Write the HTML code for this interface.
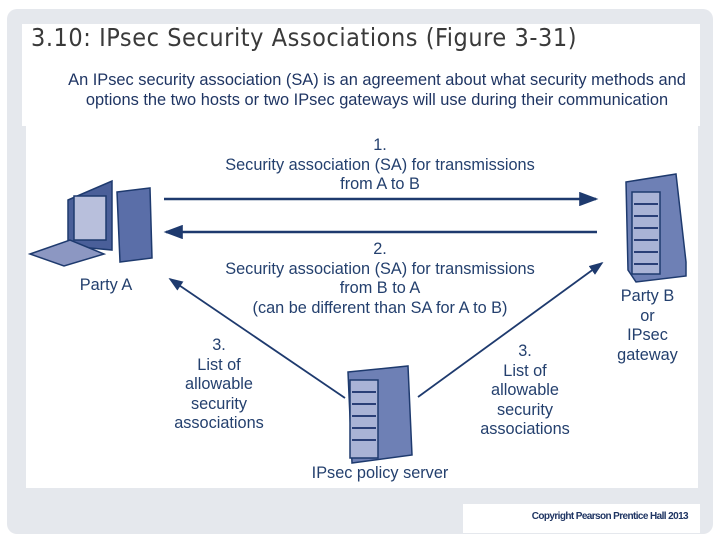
<!DOCTYPE html>
<html><head><style>
body{margin:0;width:720px;height:540px;background:#fff;position:relative;overflow:hidden;font-family:"Liberation Sans",sans-serif}
.t{position:absolute;color:#24406e;font-size:16.3px;text-align:center;line-height:19.6px;white-space:nowrap}
</style></head><body>
<div style="position:absolute;left:7px;top:9px;width:706px;height:525px;background:#e5e8ed;border-radius:10px"></div>
<div style="position:absolute;left:22px;top:24px;width:678px;height:102px;background:#fff"></div>
<div style="position:absolute;left:26px;top:126px;width:672px;height:362px;background:#fff"></div>
<div style="position:absolute;left:463px;top:504px;width:237px;height:29px;background:#fff"></div>
<div style="position:absolute;left:31px;top:23px;font-size:25px;color:#3a3a3a;letter-spacing:0.55px;font-family:'DejaVu Sans Condensed','Liberation Sans',sans-serif">3.10: IPsec Security Associations (Figure 3-31)</div>
<div class="t" style="left:27px;width:700px;top:71px;color:#1f3563;font-size:16.4px">An IPsec security association (SA) is an agreement about what security methods and<br>options the two hosts or two IPsec gateways will use during their communication</div>
<div class="t" style="left:200px;width:360px;top:136px">1.<br>Security association (SA) for transmissions<br>from A to B</div>
<div class="t" style="left:200px;width:360px;top:240px">2.<br>Security association (SA) for transmissions<br>from B to A<br>(can be different than SA for A to B)</div>
<div class="t" style="left:61px;width:90px;top:276px">Party A</div>
<div class="t" style="left:600px;width:95px;top:287px">Party B<br>or<br>IPsec<br>gateway</div>
<div class="t" style="left:159px;width:120px;top:336px">3.<br>List of<br>allowable<br>security<br>associations</div>
<div class="t" style="left:465px;width:120px;top:342px">3.<br>List of<br>allowable<br>security<br>associations</div>
<div class="t" style="left:290px;width:180px;top:464px">IPsec policy server</div>
<div style="position:absolute;left:470px;top:511px;width:218px;text-align:right;font-size:10px;font-weight:bold;color:#1f3563;letter-spacing:-0.6px">Copyright Pearson Prentice Hall 2013</div>
<svg width="720" height="540" style="position:absolute;left:0;top:0">
<defs><marker id="a" markerWidth="8" markerHeight="6" refX="7" refY="3" orient="auto" markerUnits="strokeWidth"><path d="M0,0L8,3L0,6z" fill="#1e3a6e"/></marker></defs>
<g stroke="#1e3a6e" stroke-width="2.6" fill="none">
<line x1="164" y1="199" x2="596" y2="199" marker-end="url(#a)" stroke-width="2.4"/>
<line x1="597" y1="232" x2="166" y2="232" marker-end="url(#a)" stroke-width="2.4"/>
<line x1="345" y1="398" x2="170" y2="279" marker-end="url(#a)" stroke-width="1.8"/>
<line x1="418" y1="397" x2="602" y2="263" marker-end="url(#a)" stroke-width="1.8"/>
</g>
<g stroke="#1e3a6e" stroke-width="1.5">
<path d="M68,200 L112,181 L112,250 L68,246Z" fill="#4a5f99"/>
<rect x="74" y="196" width="32" height="44" fill="#b8bfdc"/>
<path d="M117,192 L150,188 L152,258 L120,262Z" fill="#5a6ea8"/>
<path d="M30,254 L70,240 L104,254 L64,266Z" fill="#8c97c2"/>
</g>
<g stroke="#1e3a6e" stroke-width="1.5">
<path d="M626,182 L676,174 L686,262 L686,276 L636,282 L628,270Z" fill="#6e80b5"/>
<rect x="632" y="192" width="28" height="82" fill="#a9b3d6"/>
<g stroke="#2a3f77" stroke-width="2"><line x1="634" y1="204" x2="658" y2="204"/><line x1="634" y1="216" x2="658" y2="216"/><line x1="634" y1="228" x2="658" y2="228"/><line x1="634" y1="240" x2="658" y2="240"/><line x1="634" y1="252" x2="658" y2="252"/><line x1="634" y1="264" x2="658" y2="264"/></g>
</g>
<g stroke="#1e3a6e" stroke-width="1.5">
<path d="M348,372 L408,366 L412,455 L352,463Z" fill="#6e80b5"/>
<rect x="350" y="380" width="28" height="78" fill="#a9b3d6"/>
<g stroke="#2a3f77" stroke-width="2"><line x1="352" y1="392" x2="376" y2="392"/><line x1="352" y1="404" x2="376" y2="404"/><line x1="352" y1="416" x2="376" y2="416"/><line x1="352" y1="428" x2="376" y2="428"/><line x1="352" y1="440" x2="376" y2="440"/></g>
</g>
</svg>
</body></html>
